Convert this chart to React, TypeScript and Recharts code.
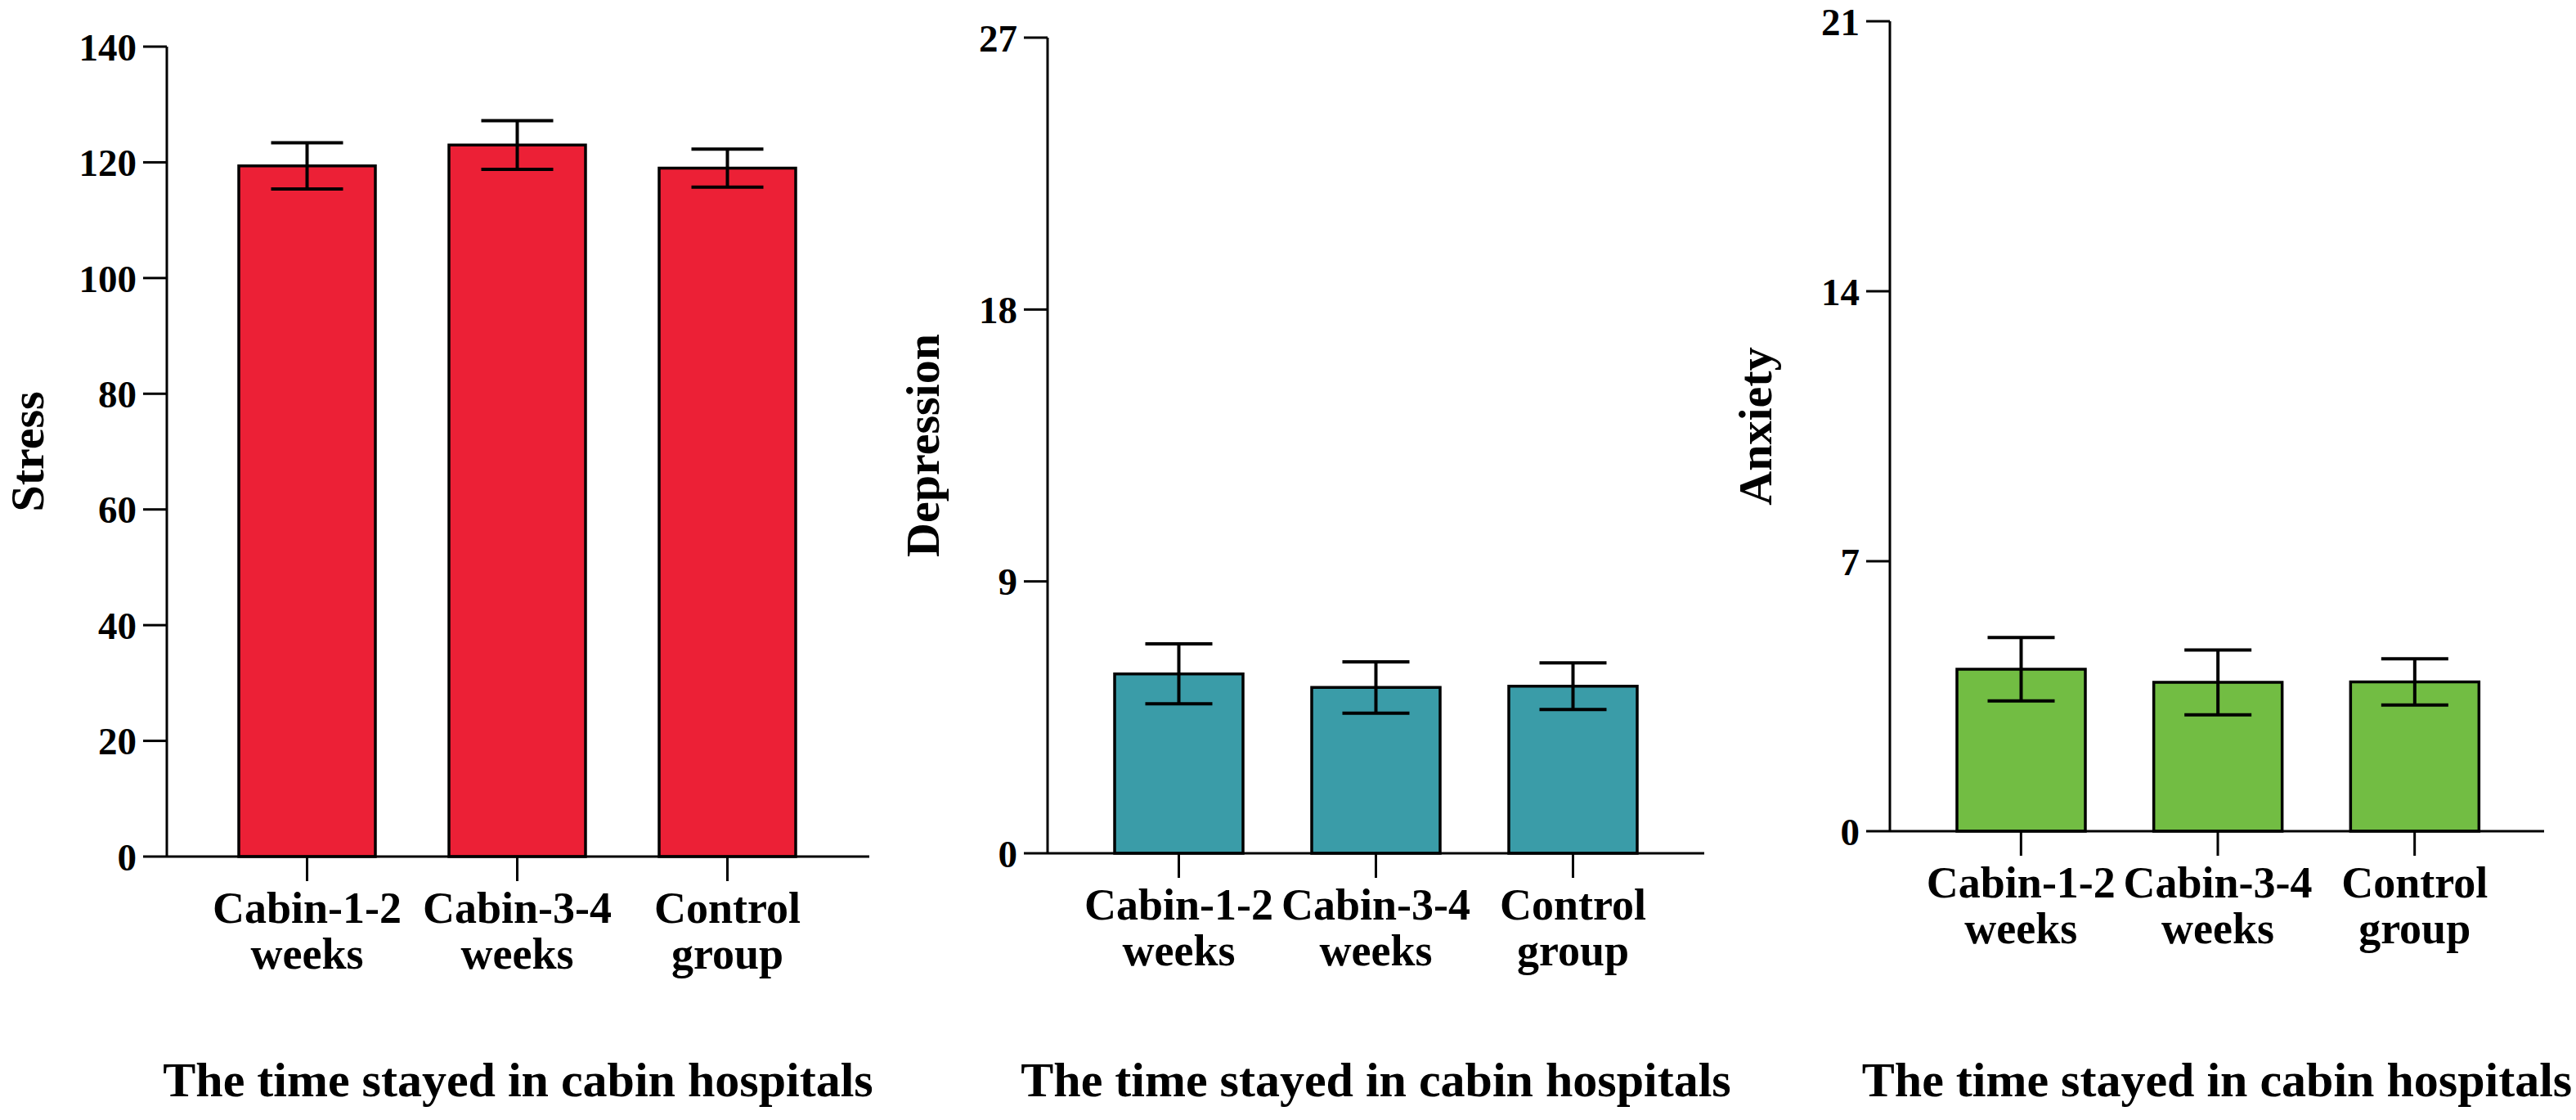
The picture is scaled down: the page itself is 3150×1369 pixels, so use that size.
import React from "react";
import { BarChart, Bar, XAxis, YAxis, ErrorBar } from "recharts";

// group names, split onto two lines at the first space
const categories = ["Cabin-1-2 weeks", "Cabin-3-4 weeks", "Control group"];

const stressMean = [119.4, 123.0, 119.0];
const stressErr = [4.0, 4.2, 3.3];
const stressTicks = [0, 20, 40, 60, 80, 100, 120, 140];

const depressionMean = [5.94, 5.49, 5.53];
const depressionErr = [0.99, 0.85, 0.77];
const depressionTicks = [0, 9, 18, 27];

const anxietyMean = [4.2, 3.86, 3.87];
const anxietyErr = [0.82, 0.84, 0.6];
const anxietyTicks = [0, 7, 14, 21];

const xTitle = "The time stayed in cabin hospitals";

const FONT = "'Liberation Serif', 'Times New Roman', serif";
const H = 1369;

const panels = [
  {
    yLabel: "Stress",
    color: "#EC2036",
    mean: stressMean,
    err: stressErr,
    ticks: stressTicks,
    box: { left: 204, right: 1063, top: 57, bottom: 1047 },
    barSize: 167,
    pad: { left: 43, right: 45 },
    cap: 44,
    labelDist: 172,
  },
  {
    yLabel: "Depression",
    color: "#3A9CA8",
    mean: depressionMean,
    err: depressionErr,
    ticks: depressionTicks,
    box: { left: 1281, right: 2084, top: 46, bottom: 1043 },
    barSize: 157,
    pad: { left: 40, right: 40 },
    cap: 41,
    labelDist: 154,
  },
  {
    yLabel: "Anxiety",
    color: "#72BD43",
    mean: anxietyMean,
    err: anxietyErr,
    ticks: anxietyTicks,
    box: { left: 2311, right: 3111, top: 26, bottom: 1016 },
    barSize: 157,
    pad: { left: 40, right: 38 },
    cap: 41,
    labelDist: 166,
  },
];

const GroupTick = (props: any) => {
  const { x, y, payload } = props;
  const text: string = payload.value;
  const cut = text.indexOf(" ");
  const lines = [text.slice(0, cut), text.slice(cut + 1)];
  return (
    <text
      x={x}
      y={y}
      textAnchor="middle"
      fontFamily={FONT}
      fontWeight="bold"
      fontSize={54}
      fill="#000"
    >
      <tspan x={x} dy={51}>
        {lines[0]}
      </tspan>
      <tspan x={x} dy={56}>
        {lines[1]}
      </tspan>
    </text>
  );
};

const Panel = ({ p }: { p: (typeof panels)[number] }) => {
  const data = categories.map((name, i) => ({
    name,
    value: p.mean[i],
    err: p.err[i],
  }));
  const yWidth = p.labelDist * 2;
  const chartLeft = p.box.left - yWidth;
  // extra room on the right so the axis title is not clipped
  const rightMargin = 160;
  const width = p.box.right - chartLeft + rightMargin;
  const max = p.ticks[p.ticks.length - 1];

  return (
    <div style={{ position: "absolute", left: chartLeft, top: 0 }}>
      <BarChart
        width={width}
        height={H}
        data={data}
        margin={{ top: p.box.top, right: rightMargin, bottom: 0, left: 0 }}
        style={{ overflow: "visible" }}
      >
        <XAxis
          dataKey="name"
          height={H - p.box.bottom}
          padding={p.pad}
          axisLine={{ stroke: "#000", strokeWidth: 3 }}
          tickLine={{ stroke: "#000", strokeWidth: 3 }}
          tickSize={30}
          tickMargin={0}
          interval={0}
          tick={<GroupTick />}
          label={{
            value: xTitle,
            position: "insideBottom",
            offset: 29,
            fontFamily: FONT,
            fontWeight: "bold",
            fontSize: 60,
            fill: "#000",
          }}
        />
        <YAxis
          width={yWidth}
          domain={[0, max]}
          ticks={p.ticks}
          interval={0}
          axisLine={{ stroke: "#000", strokeWidth: 3 }}
          tickLine={{ stroke: "#000", strokeWidth: 3 }}
          tickSize={29}
          tickMargin={8}
          tick={{
            fontFamily: FONT,
            fontWeight: "bold",
            fontSize: 47,
            fill: "#000",
          }}
          label={{
            value: p.yLabel,
            angle: -90,
            position: "center",
            fontFamily: FONT,
            fontWeight: "bold",
            fontSize: 58,
            fill: "#000",
          }}
        />
        <Bar
          dataKey="value"
          fill={p.color}
          stroke="#000"
          strokeWidth={3.5}
          barSize={p.barSize}
          isAnimationActive={false}
        >
          <ErrorBar
            dataKey="err"
            width={p.cap}
            stroke="#000"
            strokeWidth={4}
            isAnimationActive={false}
          />
        </Bar>
      </BarChart>
    </div>
  );
}

export default function App() {
  return (
    <div
      style={{
        position: "absolute",
        left: 0,
        top: 0,
        width: 3150,
        height: H,
        overflow: "hidden",
        background: "#fff",
      }}
    >
      {panels.map((p) => (
        <Panel key={p.yLabel} p={p} />
      ))}
    </div>
  );
}
